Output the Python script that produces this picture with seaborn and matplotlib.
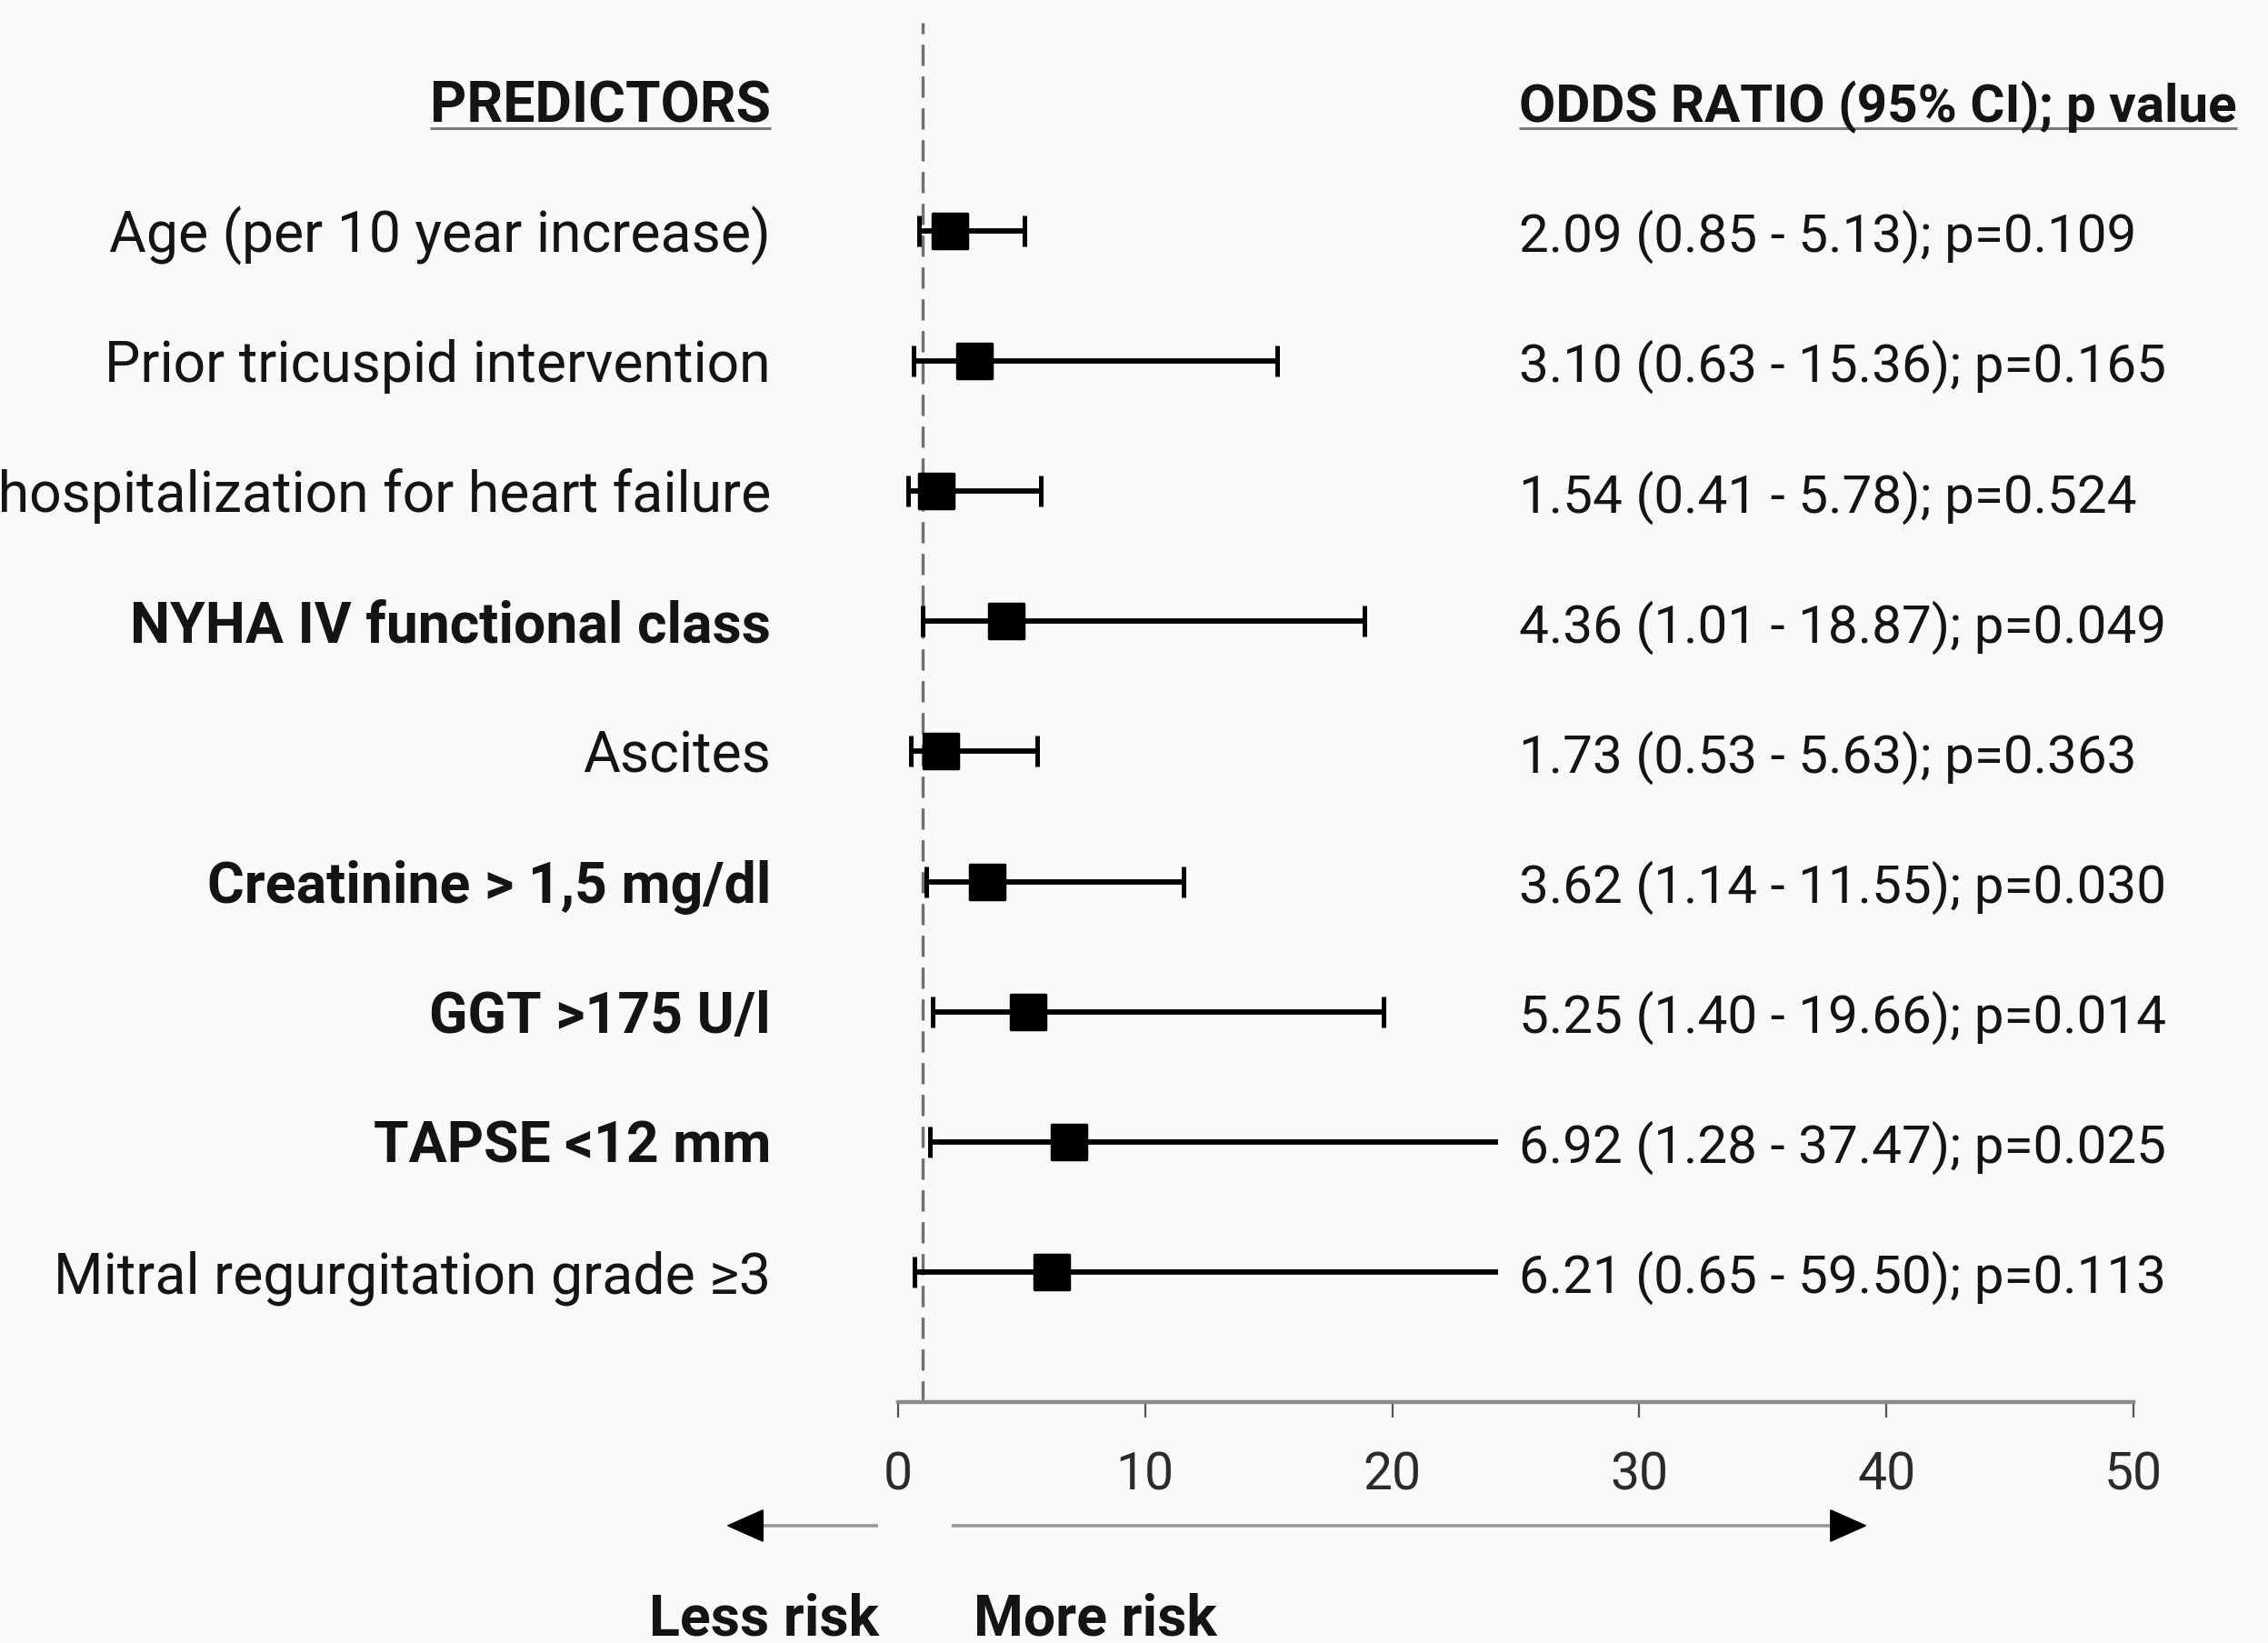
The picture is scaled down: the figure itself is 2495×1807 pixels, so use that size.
import matplotlib
matplotlib.use("Agg")
import matplotlib.pyplot as plt
import numpy as np
import pandas as pd
import seaborn as sns

# ---------------- data ----------------
predictors = [
    "Age (per 10 year increase)",
    "Prior tricuspid intervention",
    "Prior hospitalization for heart failure",
    "NYHA IV functional class",
    "Ascites",
    "Creatinine > 1,5 mg/dl",
    "GGT >175 U/l",
    "TAPSE <12 mm",
    "Mitral regurgitation grade \u22653",
]
odds_ratio = [2.09, 3.10, 1.54, 4.36, 1.73, 3.62, 5.25, 6.92, 6.21]
ci_lower = [0.85, 0.63, 0.41, 1.01, 0.53, 1.14, 1.40, 1.28, 0.65]
ci_upper = [5.13, 15.36, 5.78, 18.87, 5.63, 11.55, 19.66, 37.47, 59.50]
p_values = [0.109, 0.165, 0.524, 0.049, 0.363, 0.030, 0.014, 0.025, 0.113]
x_ticks = [0, 10, 20, 30, 40, 50]
header_left = "PREDICTORS"
header_right = "ODDS RATIO (95% CI); p value"
less_label = "Less risk"
more_label = "More risk"

# display truncation of whiskers (they stop before the text column)
WHISKER_MAX = 24.3

df = pd.DataFrame({
    "predictor": predictors,
    "or": odds_ratio,
    "lo": ci_lower,
    "hi": ci_upper,
    "p": p_values,
})
df["row"] = np.arange(1, len(df) + 1)
df["hi_draw"] = np.minimum(df["hi"], WHISKER_MAX)
df["bold"] = df["p"] < 0.05

# ---------------- style ----------------
sns.set_theme(style="white")
FAM = ["Roboto", "DejaVu Sans"]
plt.rcParams["font.family"] = FAM
BG = "#f9f9f9"

W, H = 2495, 1808
fig = plt.figure(figsize=(W / 100, H / 100), dpi=100, facecolor=BG)
left_px, right_px, top_px, bottom_px = 988, 2347, 26, 1543
ax = fig.add_axes([left_px / W, 1 - bottom_px / H,
                   (right_px - left_px) / W, (bottom_px - top_px) / H])
ax.set_facecolor(BG)
ax.set_xlim(0, 50)
ax.set_ylim(10, -0.6)

# reference line at OR = 1
ax.axvline(1, color="#707070", lw=2.4, ls=(0, (7, 3.5)), zorder=1)

# whiskers
ax.hlines(df["row"], df["lo"], df["hi_draw"], color="black", lw=4.2, zorder=2)
ax.plot(df["lo"], df["row"], ls="none", marker="|", ms=24, mew=3.6,
        color="black", zorder=2)
capped = df[df["hi"] <= WHISKER_MAX]
ax.plot(capped["hi"], capped["row"], ls="none", marker="|", ms=24, mew=3.6,
        color="black", zorder=2)

# point estimates
sns.scatterplot(data=df, x="or", y="row", marker="s", s=760, color="black",
                edgecolor="black", linewidth=2.5, ax=ax, zorder=3, legend=False)

# axes styling
for s in ["top", "right", "left"]:
    ax.spines[s].set_visible(False)
ax.spines["bottom"].set_color("#8a8a8a")
ax.spines["bottom"].set_linewidth(3.2)
ax.set_xticks(x_ticks)
ax.set_xticklabels([str(t) for t in x_ticks])
ax.set_yticks([])
ax.tick_params(axis="x", which="major", bottom=True, direction="out",
               length=12, width=1.6, color="#555555", pad=26, labelsize=41,
               labelcolor="#2b2b2b")
ax.set_xlabel("")
ax.set_ylabel("")

CAP = 0.155  # half cap height in row units
LBL_X = -5.15
VAL_X = 25.13
FS = 45
FS_VAL = 42

for _, r in df.iterrows():
    ax.text(LBL_X, r["row"] + CAP, r["predictor"], ha="right", va="baseline",
            fontsize=FS, fontweight="bold" if r["bold"] else "normal",
            color="#141414", clip_on=False, family=FAM)
    txt = f"{r['or']:.2f} ({r['lo']:.2f} - {r['hi']:.2f}); p={r['p']:.3f}"
    ax.text(VAL_X, r["row"] + CAP, txt, ha="left", va="baseline",
            fontsize=FS_VAL, color="#141414", clip_on=False, family=FAM)

h1 = ax.text(LBL_X, 0 + CAP, header_left, ha="right", va="baseline",
             fontsize=FS, fontweight="bold", color="#141414", clip_on=False,
             family=FAM)
h2 = ax.text(VAL_X, 0 + CAP, header_right, ha="left", va="baseline",
             fontsize=FS_VAL, fontweight="bold", color="#141414", clip_on=False,
             family=FAM)

# direction arrows
ARROW_Y = 10.95
ax.plot([-0.81, -6.6], [ARROW_Y, ARROW_Y], color="#9a9a9a", lw=2.6,
        clip_on=False, solid_capstyle="butt")
ax.plot([2.17, 38.9], [ARROW_Y, ARROW_Y], color="#9a9a9a", lw=2.6,
        clip_on=False, solid_capstyle="butt")
ax.annotate("", xy=(-7.06, ARROW_Y), xytext=(-6.0, ARROW_Y),
            arrowprops=dict(arrowstyle="-|>,head_length=0.9,head_width=0.4",
                            color="black", lw=1.5, mutation_scale=30),
            annotation_clip=False)
ax.annotate("", xy=(39.33, ARROW_Y), xytext=(38.3, ARROW_Y),
            arrowprops=dict(arrowstyle="-|>,head_length=0.9,head_width=0.4",
                            color="black", lw=1.5, mutation_scale=30),
            annotation_clip=False)
ax.text(-0.77, 11.63 + CAP, less_label, ha="right", va="baseline", fontsize=FS,
        fontweight="bold", color="#141414", clip_on=False, family=FAM)
ax.text(3.05, 11.63 + CAP, more_label, ha="left", va="baseline", fontsize=FS,
        fontweight="bold", color="#141414", clip_on=False, family=FAM)

# underline the headers
fig.canvas.draw()
inv = ax.transData.inverted()
for t in (h1, h2):
    bb = t.get_window_extent()
    x0 = inv.transform((bb.x0, 0))[0]
    x1 = inv.transform((bb.x1, 0))[0]
    ax.plot([x0, x1], [0.21, 0.21], color="#7a7a7a", lw=2.2, clip_on=False,
            solid_capstyle="butt")

fig.savefig("out.png", dpi=100, facecolor=BG)
